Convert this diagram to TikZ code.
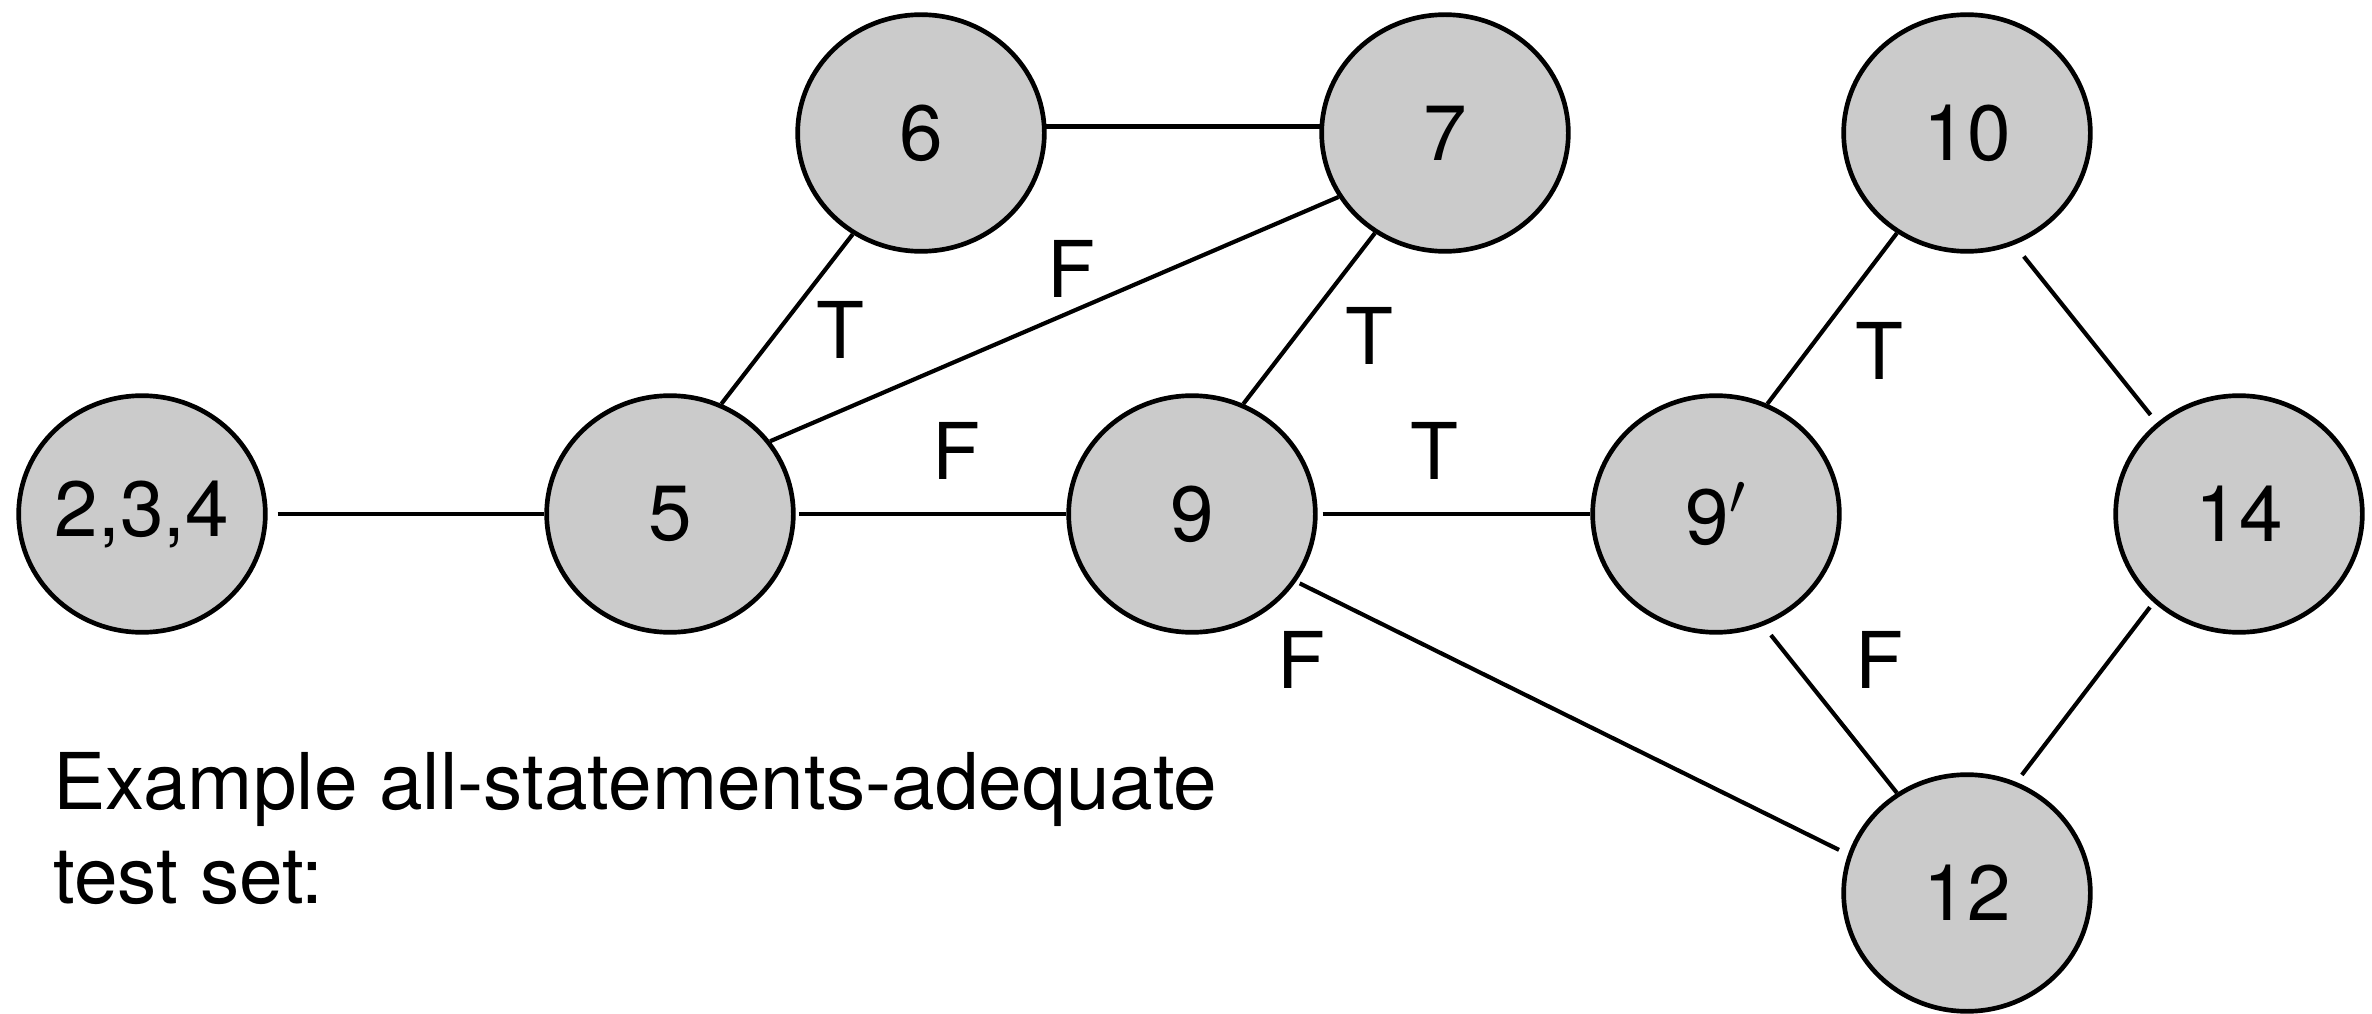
\documentclass[tikz,border=0pt]{standalone}
\usepackage{fontspec}
\setmainfont{TeX Gyre Heros}
\usetikzlibrary{shapes.geometric}
\definecolor{nodegray}{RGB}{203,203,203}

\begin{document}
\begin{tikzpicture}[x=0.3pt, y=0.3pt,
  block/.style={ellipse, draw, line width=1.4pt, fill=nodegray, minimum width=74pt, minimum height=71pt, inner sep=0pt, font=\fontsize{23.5}{28}\selectfont},
  edge/.style={line width=1.25pt},
  lbl/.style={inner sep=0pt, font=\fontsize{23.5}{28}\selectfont}]

\useasboundingbox (0,0) rectangle (2372,1013);

\node[block] (n234) at (142,499) {2,3,4};
\node[block] (n5) at (670,499) {5};
\node[block] (n9) at (1192,499) {9};
\node[block] (n9p) at (1716,499) {9$'$};
\node[block] (n14) at (2239,499) {14};
\node[block] (n6) at (921,880) {6};
\node[block] (n7) at (1445,880) {7};
\node[block] (n10) at (1967,880) {10};
\node[block] (n12) at (1967,120) {12};

\draw[edge, shorten <=3pt] (n234.east) -- (n5.west);
\draw[edge, shorten <=1pt] (n5.east) -- (n9.west);
\draw[edge, shorten <=1.5pt] (n9.east) -- (n9p.west);
\draw[edge] (n6.3) -- (n7.177);
\draw[edge] (n5.65) -- (n6.236);
\draw[edge] (n5.36) -- (n7.211);
\draw[edge] (n7.235) -- (n9.65);
\draw[edge] (n10.235) -- (n9p.65);
\draw[edge, shorten <=4.5pt, shorten >=3pt] (n10.293) -- (n14.132);
\draw[edge, shorten <=3.6pt] (n9p.293) -- (n12.125);
\draw[edge, shorten <=1.8pt, shorten >=2.7pt] (n14.226) -- (n12.66);
\draw[edge, shorten <=1.2pt, shorten >=3pt] (n9.327) -- (n12.162);

\node[lbl] (t56) at (840,683) {T};
\node[lbl] (f57) at (1071,744) {F};
\node[lbl] (f59) at (956,562) {F};
\node[lbl] (t79) at (1369,677) {T};
\node[lbl] (t99) at (1434,562) {T};
\node[lbl] (f912) at (1301,353) {F};
\node[lbl] (t109) at (1879,662) {T};
\node[lbl] (f912b) at (1879,353) {F};

\node[lbl, anchor=base west, align=left] (caption) at (53,110) {Example all-statements-adequate\\test set:};
\end{tikzpicture}
\end{document}
